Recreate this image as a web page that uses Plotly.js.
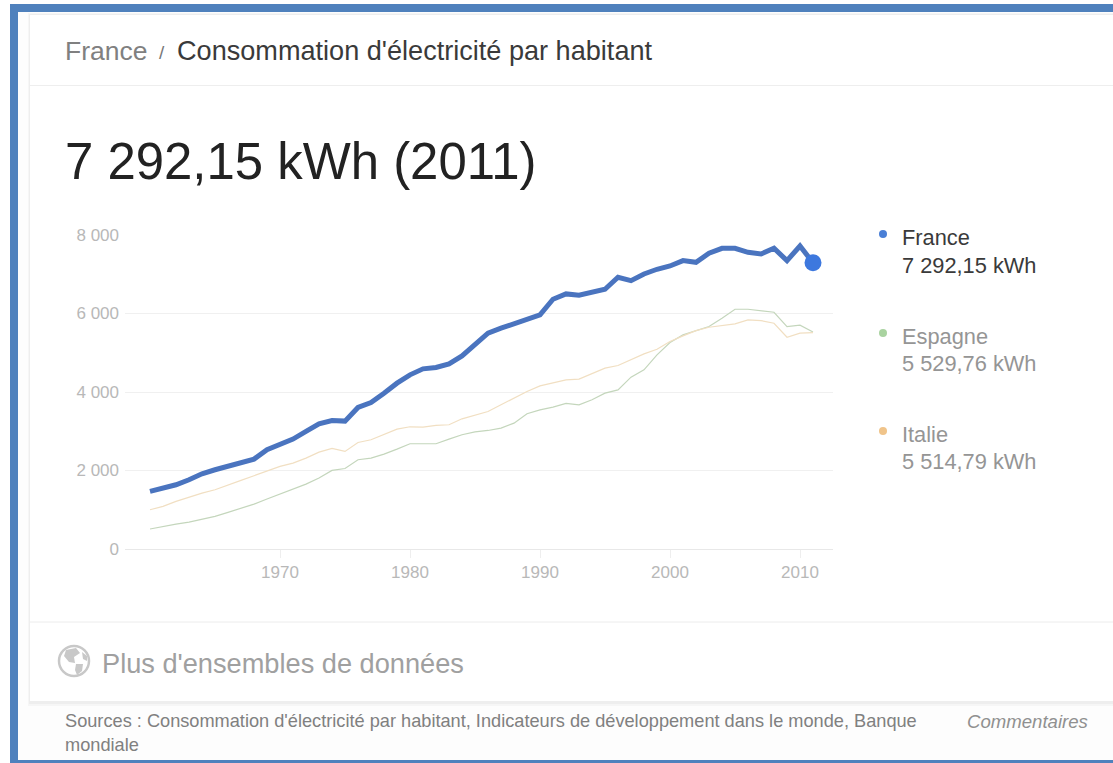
<!DOCTYPE html>
<html><head><meta charset="utf-8">
<script src="https://cdn.plot.ly/plotly-3.0.1.min.js"></script>
<style>html,body{margin:0;padding:0;background:#fff;overflow:hidden}#c{width:1113px;height:763px}</style>
</head><body><div id="c"></div>
<script>
const years=[1960,1961,1962,1963,1964,1965,1966,1967,1968,1969,1970,1971,1972,1973,1974,1975,1976,1977,1978,1979,1980,1981,1982,1983,1984,1985,1986,1987,1988,1989,1990,1991,1992,1993,1994,1995,1996,1997,1998,1999,2000,2001,2002,2003,2004,2005,2006,2007,2008,2009,2010,2011];
const france=[1468,1553,1637,1765,1917,2019,2120,2214,2290,2530,2680,2800,2995,3190,3275,3258,3606,3733,3970,4225,4437,4590,4624,4717,4920,5200,5498,5625,5735,5862,5964,6363,6499,6465,6532,6617,6923,6838,7008,7127,7211,7347,7305,7534,7661,7661,7559,7517,7661,7347,7720,7292.15];
const espagne=[509,577,636,687,764,831,933,1035,1145,1273,1400,1510,1654,1807,2002,2050,2274,2316,2418,2545,2681,2681,2681,2800,2910,2986,3020,3080,3207,3445,3546,3614,3708,3674,3801,3971,4055,4378,4564,4946,5260,5455,5565,5667,5880,6108,6108,6074,6032,5667,5701,5529.76];
const italie=[1000,1086,1213,1323,1425,1510,1637,1748,1866,1977,2104,2189,2316,2469,2562,2486,2715,2783,2910,3054,3114,3105,3148,3165,3317,3419,3504,3674,3843,4013,4157,4242,4310,4327,4463,4607,4675,4819,4972,5090,5285,5430,5565,5650,5693,5735,5837,5820,5752,5396,5498,5514.79];
const yTicks=[0,2000,4000,6000,8000];
const yLabels=['0','2 000','4 000','6 000','8 000'];
const xTicks=[1970,1980,1990,2000,2010];

const L=125,R=833,T=235,B=549;
const px=x=>(x-L)/(R-L), py=y=>(B-y)/(B-T);
const FONT='"Liberation Sans", Arial, sans-serif';
const blueFrame='#4f81bd';
function rect(x0,y0,x1,y1,fill,layer){return {type:'rect',xref:'paper',yref:'paper',x0:px(x0),x1:px(x1),y0:py(y0),y1:py(y1),fillcolor:fill,line:{width:0},layer:layer||'below'};}
function hline(x0,x1,y,c,w){return {type:'line',xref:'paper',yref:'paper',x0:px(x0),x1:px(x1),y0:py(y),y1:py(y),line:{color:c,width:w||1},layer:'below'};}
function circ(cx,cy,r,fill,lc,lw){return {type:'circle',xref:'paper',yref:'paper',x0:px(cx-r),x1:px(cx+r),y0:py(cy-r),y1:py(cy+r),fillcolor:fill,line:{color:lc||fill,width:lw||0},layer:'above'};}
function blob(pts,fill){return {type:'path',xref:'paper',yref:'paper',path:'M'+pts.map(p=>px(p[0])+','+py(p[1])).join('L')+'Z',fillcolor:fill,line:{width:0},layer:'above'};}
function txt(x,y,t,size,color){return {xref:'paper',yref:'paper',x:px(x),y:py(y),text:t,showarrow:false,xanchor:'left',yanchor:'middle',font:{family:FONT,size:size,color:color},borderpad:0,borderwidth:0};}

const shapes=[
  rect(18,12,1113,760,'#fdfdfd'),
  rect(28,13,1113,706,'#f6f6f6'),
  rect(29,14,1113,704,'#eeeeee'),
  rect(30,15,1113,701,'#ffffff'),
  hline(30,1113,85.5,'#eeeeee',1),
  hline(30,1113,622,'#ececec',1),
  rect(10,4,1113,12,blueFrame,'above'),
  rect(10,4,18,763,blueFrame,'above'),
  rect(10,760,1113,763,blueFrame,'above'),
  circ(883,234,4,'#4a7fd6'),
  circ(883,333,4,'#a9d3a0'),
  circ(883,431,4,'#f0c48a'),
  circ(74,661,15,'#ffffff','#c8c8c8',2.5),
  blob([[66,650],[76,648],[80,653],[74,657],[75,663],[69,662],[64,656]],'#c8c8c8'),
  blob([[76,664],[83,664],[82,671],[77,675],[75,670]],'#c8c8c8'),
  blob([[82,652],[87,656],[87,661],[83,659]],'#c8c8c8')
];
const annotations=[
  txt(65,51,'France',26.5,'#808080'),
  txt(159,52,'/',19,'#777777'),
  txt(177,51,"Consommation d'électricité par habitant",27.1,'#3a3a3a'),
  txt(65,161,'7 292,15 kWh (2011)',50.9,'#222222'),
  txt(902,237,'France',21.8,'#3a3a3a'),
  txt(902,265,'7 292,15 kWh',21.8,'#3a3a3a'),
  txt(902,336,'Espagne',21.8,'#959595'),
  txt(902,363,'5 529,76 kWh',21.8,'#959595'),
  txt(902,434,'Italie',21.8,'#959595'),
  txt(902,461,'5 514,79 kWh',21.8,'#959595'),
  txt(102,663,"Plus d'ensembles de données",27.2,'#a0a0a0'),
  txt(65,721,"Sources : Consommation d'électricité par habitant, Indicateurs de développement dans le monde, Banque",18.2,'#808080'),
  txt(65,745,'mondiale',18.2,'#808080'),
  txt(967,721,'<i>Commentaires</i>',18.6,'#909090'),
];

const traces=[
  {x:years,y:espagne,name:'Espagne',mode:'lines',line:{color:'#c4d6bc',width:1.2},hoverinfo:'skip'},
  {x:years,y:italie,name:'Italie',mode:'lines',line:{color:'#f1dfc2',width:1.2},hoverinfo:'skip'},
  {x:years,y:france,name:'France',mode:'lines',line:{color:'#4a74bf',width:5},hoverinfo:'skip'},
  {x:[years[years.length-1]],y:[france[france.length-1]],name:'France 2011',mode:'markers',marker:{color:'#3d78de',size:17},hoverinfo:'skip'}
];
const layout={
  width:1113,height:763,
  margin:{l:L,r:1113-R,t:T,b:763-B,pad:0},
  paper_bgcolor:'#ffffff',plot_bgcolor:'rgba(0,0,0,0)',
  showlegend:false,
  font:{family:FONT,color:'#b8b8b8'},
  xaxis:{range:[1970-(280-L)/13,1970+(R-280)/13],tickvals:xTicks,ticktext:xTicks.map(String),showgrid:false,zeroline:false,showline:false,
    ticks:'outside',ticklen:8,tickcolor:'#eeeeee',tickwidth:1,tickfont:{family:FONT,size:17,color:'#b8b8b8'}},
  yaxis:{range:[0,8000],tickvals:yTicks,ticktext:yLabels,showgrid:true,gridcolor:'#f0f0f0',gridwidth:1,zeroline:true,zerolinecolor:'#e8e8e8',zerolinewidth:1,showline:false,
    ticks:'',ticklabelstandoff:5,tickfont:{family:FONT,size:17,color:'#b8b8b8'}},
  shapes,annotations
};
Plotly.newPlot('c',traces,layout,{displayModeBar:false,staticPlot:true});
</script></body></html>
